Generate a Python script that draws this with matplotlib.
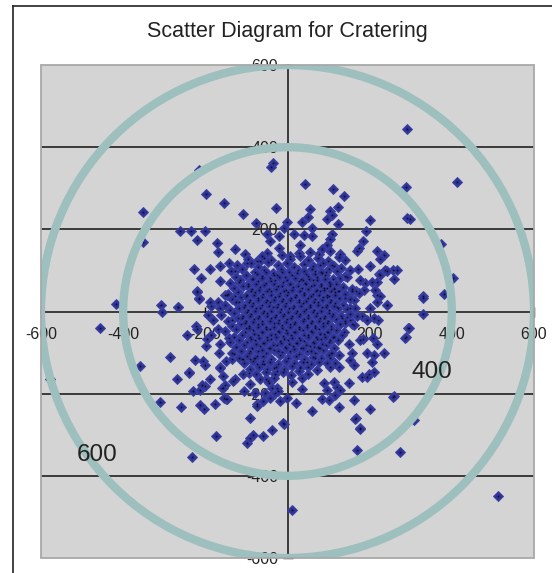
import matplotlib
matplotlib.use("Agg")
import matplotlib.pyplot as plt
from matplotlib.patches import Circle, Rectangle
from matplotlib.lines import Line2D

# ---------------- data ----------------
title = "Scatter Diagram for Cratering"
tick_values = [-600, -400, -200, 0, 200, 400, 600]
grid_values = [-400, -200, 200, 400]
ring_radii = [400, 600]
ring_labels = ["400", "600"]

# isolated impacts far from the aim point
outer_pts = [
    (292, 445), (413, 315), (288, 303), (292, 228), (298, 225), (373, 165), (403, 82),
    (330, 37), (381, 42), (329, -7), (294, -40), (288, -63), (259, -205), (308, -265),
    (275, -343), (168, -337), (166, -259), (176, -284), (513, -448), (10, -482), (-9, -273),
    (-417, 19), (-309, 17), (-306, -2), (-267, 11), (-456, -40), (-578, -165), (-245, -57),
    (-286, -110), (-270, -165), (-240, -147), (-259, -232), (-310, -221), (-359, -132),
    (-174, -302), (-233, -355), (-91, -259), (-99, -320), (-91, -308), (-83, -300),
    (-59, -302), (-38, -288), (-10, -272), (-35, 361), (-39, 352), (-215, 344), (-198, 287),
    (-154, 265), (-108, 237), (-27, 253), (-77, 216), (-261, 195), (-236, 197), (-200, 195),
    (-220, 175), (-351, 241), (-351, 170), (43, 310), (111, 298), (138, 282), (201, 222),
    (191, 195), (329, 32), (243, 15), (217, 39), (295, -41), (287, -65), (258, -208),
    (201, -237), (165, -261), (177, -286), (60, -243), (21, -222), (125, -233),
]

# scattered impacts around the dense core
mid_pts = [
    (-172, 167), (-169, 145), (-129, 151), (-103, 141), (-228, 104), (-188, 104), (-210, 81),
    (-164, 74), (-220, 51), (-216, 33), (-266, 12), (-222, -36), (-220, -43), (-215, 30),
    (-220, 48), (54, 249), (103, 245), (123, 255), (108, 234), (96, 225), (35, 219),
    (50, 229), (123, 212), (-1, 217), (60, 204), (15, 188), (39, 185), (60, 184), (108, 188),
    (104, 176), (96, 163), (173, 155), (169, 147), (31, 163), (27, 143), (7, 135), (55, 145),
    (76, 139), (84, 151), (103, 147), (128, 140), (141, 126), (125, 132), (218, 147),
    (236, 137), (224, 129), (112, 110), (153, 100), (171, 104), (201, 110), (238, 100),
    (258, 102), (266, 102), (222, 91), (184, 171), (80, 114), (68, 98), (84, 94), (100, 103),
    (128, 82), (141, 87), (189, 69), (218, 73), (167, 49), (187, 53), (173, 45), (157, 49),
    (214, 53), (226, 37), (218, 24), (242, 16), (161, 29), (141, 33), (153, 8), (125, 49),
    (112, 57), (96, 57), (100, 37), (120, 12), (205, 72), (176, 76), (144, 84), (156, 55),
    (103, 63), (124, 51), (260, 80), (225, 90), (241, 99), (200, 9), (221, -21), (208, -64),
    (183, -68), (157, -30), (144, -13), (211, -16), (181, -12), (193, -20), (153, -20),
    (161, -33), (141, -29), (133, -16), (169, -10), (112, -61), (104, -69), (149, -78),
    (177, -69), (218, -78), (80, -90), (64, -86), (108, -102), (125, -106), (157, -102),
    (153, -118), (161, -131), (193, -102), (210, -106), (206, -122), (234, -102), (104, -114),
    (104, -135), (125, -135), (116, -126), (47, -122), (31, -135), (68, -114), (181, -159),
    (198, -151), (211, -147), (193, -159), (88, -175), (112, -171), (120, -184), (149, -175),
    (128, -192), (96, -192), (84, -212), (100, -216), (116, -204), (161, -216), (35, -163),
    (35, -188), (11, -171), (-198, -84), (-164, -80), (-167, -100), (-196, -67), (-226, -118),
    (-206, -120), (-200, -130), (-164, -135), (-149, -120), (-131, -104), (-111, -116),
    (-82, -112), (-74, -128), (-58, -128), (-91, -96), (-239, -149), (-230, -194),
    (-212, -190), (-200, -182), (-159, -186), (-151, -178), (-129, -165), (-150, -214),
    (-176, -226), (-204, -238), (-212, -228), (-94, -149), (-107, -194), (-74, -226),
    (-46, -173), (-38, -186), (-30, -198), (-54, -198), (-78, -198), (-52, -165), (-34, -161),
    (-18, -218), (-26, -145), (-34, -137), (-209, -180), (-148, -214), (-154, -210),
    (-156, -186), (-132, -168), (-156, -157), (-189, -165), (-164, -137), (-136, -116),
    (-108, -116), (-91, -116), (-75, -108), (-59, -120), (-108, -153), (-91, -176),
    (-67, -165), (-47, -169), (-26, -186), (-59, -218), (-75, -230), (-43, -210), (-22, -193),
    (-2, -210), (-186, 13), (-169, 22), (-194, -8), (-181, -21), (-186, -56), (-169, -43),
    (-152, 39), (-135, -21), (-142, -64), (-117, 22), (-100, -39), (-147, 41), (-127, 37),
    (-188, 24), (-164, 8), (-164, 110), (-143, 118), (-127, 98), (-99, 118), (-119, 73),
    (-74, 122), (-58, 130), (-50, 188), (-42, 171), (-21, 183), (-9, 204), (-21, 155),
    (-50, 143), (-66, 122),
]

# dense core near the aim point
core_pts = [
    (-95, 128), (-62, 134), (-40, 126), (-14, 138), (6, 129), (31, 136), (50, 125), (74, 131), (98, 122),
    (-122, 112), (-90, 118), (-71, 109), (-47, 121), (-24, 113), (-2, 119), (17, 108), (39, 116),
    (63, 111), (86, 119), (108, 113), (130, 106),
    (-137, 98), (-111, 104), (-80, 96), (-58, 101), (-36, 94), (-16, 103), (4, 97), (26, 100),
    (44, 92), (59, 104), (94, 96), (121, 99),
    (-126, 84), (-101, 89), (-86, 80), (-63, 87), (-43, 82), (-26, 90), (-6, 84), (12, 88),
    (34, 80), (51, 86), (71, 83), (91, 89), (111, 80),
    (-141, 70), (-116, 76), (-96, 68), (-73, 74), (-53, 69), (-31, 77), (-11, 71), (7, 66),
    (27, 74), (43, 70), (61, 77), (81, 68), (101, 73), (119, 66),
    (-131, 56), (-109, 62), (-86, 54), (-66, 60), (-46, 55), (-23, 61), (-4, 53), (14, 59),
    (36, 57), (56, 62), (73, 52), (89, 58), (113, 55), (136, 60),
    (-146, 43), (-121, 48), (-99, 41), (-79, 47), (-59, 42), (-39, 49), (-19, 44), (1, 47),
    (21, 41), (41, 46), (61, 43), (79, 49), (96, 40), (116, 47), (141, 42),
    (-136, 30), (-113, 35), (-91, 28), (-71, 34), (-51, 29), (-31, 36), (-11, 31), (9, 34),
    (29, 27), (49, 33), (67, 30), (86, 36), (106, 29), (126, 34), (151, 31),
    (-151, 17), (-126, 22), (-103, 16), (-83, 21), (-63, 15), (-43, 23), (-23, 18), (-3, 21),
    (17, 14), (37, 20), (55, 17), (75, 23), (95, 16), (115, 21), (135, 15),
    (-141, 4), (-119, 9), (-96, 3), (-76, 8), (-56, 2), (-36, 10), (-16, 5), (4, 8), (24, 1),
    (44, 7), (64, 4), (84, 10), (102, 3), (122, 8), (145, 5), (165, 9),
    (-161, -9), (-131, -4), (-109, -10), (-89, -5), (-69, -11), (-49, -3), (-29, -8), (-9, -5),
    (11, -12), (31, -6), (51, -9), (71, -3), (91, -10), (111, -5), (131, -11), (152, -6),
    (-146, -22), (-121, -17), (-101, -23), (-81, -18), (-61, -24), (-41, -16), (-21, -21),
    (-1, -18), (19, -25), (39, -19), (59, -22), (79, -16), (99, -23), (119, -18), (139, -24),
    (-136, -35), (-113, -30), (-93, -36), (-73, -31), (-53, -37), (-33, -29), (-13, -34),
    (7, -31), (27, -38), (47, -32), (67, -35), (87, -29), (107, -36), (127, -31),
    (-151, -48), (-126, -43), (-103, -49), (-83, -44), (-63, -50), (-43, -42), (-23, -47),
    (-3, -44), (17, -51), (37, -45), (57, -48), (77, -42), (97, -49), (117, -44), (138, -50),
    (-131, -61), (-111, -56), (-91, -62), (-71, -57), (-51, -63), (-31, -55), (-11, -60),
    (9, -57), (29, -64), (49, -58), (69, -61), (89, -55), (110, -62), (132, -57),
    (-141, -74), (-119, -69), (-99, -75), (-79, -70), (-59, -76), (-39, -68), (-19, -73),
    (1, -70), (21, -77), (41, -71), (61, -74), (81, -68), (100, -75), (122, -70),
    (-126, -87), (-106, -82), (-86, -88), (-66, -83), (-46, -89), (-26, -81), (-6, -86),
    (14, -83), (34, -90), (54, -84), (74, -87), (94, -81), (114, -88),
    (-136, -100), (-113, -95), (-93, -101), (-73, -96), (-53, -102), (-33, -94), (-13, -99),
    (7, -96), (27, -103), (47, -97), (67, -100), (87, -94), (107, -101),
    (-119, -113), (-99, -108), (-79, -114), (-59, -109), (-39, -115), (-19, -107), (1, -112),
    (21, -109), (41, -116), (61, -110), (81, -113), (100, -107),
    (-106, -126), (-83, -121), (-63, -127), (-43, -122), (-23, -128), (-3, -120), (17, -125),
    (37, -122), (57, -129), (77, -123), (95, -126),
    (-91, -139), (-69, -134), (-49, -140), (-29, -135), (-9, -141), (11, -133), (31, -138),
    (51, -135), (71, -142),
    (-76, -152), (-53, -147), (-31, -153), (-11, -148), (9, -154), (29, -146), (49, -151),
]

# second, offset layer in the most crowded part of the core
inner_pts = [
    (-75, 92), (-52, 95), (-33, 88), (-13, 96), (22, 93), (40, 98), (66, 91), (82, 95),
    (-83, 79), (-63, 81), (-41, 75), (-21, 83), (-1, 77), (18, 81), (37, 76), (52, 80), (72, 76), (91, 79),
    (-95, 63), (-76, 66), (-56, 64), (-34, 68), (-13, 62), (5, 66), (25, 63), (45, 67), (64, 65), (82, 63), (103, 66),
    (-90, 50), (-69, 53), (-49, 51), (-29, 55), (-9, 49), (11, 53), (31, 50), (50, 54), (69, 51), (88, 53), (106, 50),
    (-101, 37), (-81, 40), (-61, 36), (-41, 41), (-21, 38), (-1, 40), (19, 35), (39, 39), (58, 37), (77, 41), (96, 36), (116, 39),
    (-94, 24), (-73, 27), (-53, 23), (-33, 28), (-13, 25), (7, 27), (27, 22), (46, 26), (65, 24), (85, 28), (104, 23),
    (-106, 11), (-86, 13), (-66, 9), (-46, 14), (-26, 11), (-6, 13), (14, 9), (34, 13), (54, 10), (74, 15), (93, 11), (112, 14),
    (-99, -2), (-79, 1), (-59, -4), (-39, 2), (-19, -1), (1, 0), (21, -4), (41, 1), (61, -2), (81, 2), (101, -3),
    (-111, -15), (-91, -12), (-71, -17), (-51, -11), (-31, -14), (-11, -12), (9, -17), (29, -11), (49, -15), (69, -10), (89, -16), (109, -12),
    (-103, -28), (-83, -25), (-63, -30), (-43, -24), (-23, -27), (-3, -25), (17, -30), (37, -24), (57, -28), (77, -23), (97, -29),
    (-93, -41), (-73, -38), (-53, -43), (-33, -37), (-13, -40), (7, -38), (27, -43), (47, -37), (67, -41), (87, -36), (107, -42),
    (-81, -54), (-61, -51), (-41, -56), (-21, -50), (-1, -53), (19, -51), (39, -56), (59, -50), (79, -54), (99, -49),
    (-89, -67), (-69, -64), (-49, -69), (-29, -63), (-9, -66), (11, -64), (31, -69), (51, -63), (71, -67), (91, -62),
    (-76, -80), (-56, -77), (-36, -82), (-16, -76), (4, -79), (24, -77), (44, -82), (64, -76), (84, -80),
    (-63, -93), (-43, -90), (-23, -95), (-3, -89), (17, -92), (37, -90), (57, -95), (77, -89),
]

# ---------------- figure ----------------
W, H, DPI = 552, 573, 100
fig = plt.figure(figsize=(W / DPI, H / DPI), dpi=DPI, facecolor="white")
FONT = ["Liberation Sans", "DejaVu Sans"]

# plot area in pixels: x 41..534, y 65..558 (from top)
L, T, R, B = 41, 65, 534, 558
ax = fig.add_axes([L / W, 1 - B / H, (R - L) / W, (B - T) / H])
ax.set_xlim(-600, 600)
ax.set_ylim(-600, 600)
ax.set_facecolor("#d4d4d4")

for s in ("top", "right"):
    ax.spines[s].set_visible(False)
for s in ("left", "bottom"):
    ax.spines[s].set_position("zero")
    ax.spines[s].set_color("#111111")
    ax.spines[s].set_linewidth(1.1)
    ax.spines[s].set_zorder(2)

ax.set_xticks(tick_values)
ax.set_yticks(tick_values)
ax.tick_params(direction="inout", length=7, width=1.0, color="#111111",
               labelbottom=False, labelleft=False)

for g in grid_values:
    ax.axhline(g, color="#111111", lw=1.1, zorder=1.5)

# tick labels (drawn under the marks, like the original)
for v in tick_values:
    ax.text(v, -67, f"{v}", ha="center", va="baseline", fontsize=11.5,
            family=FONT, color="#222222", zorder=2.2)
    ax.text(-23, v - 15, f"{v}", ha="right", va="baseline", fontsize=11.5,
            family=FONT, color="#222222", zorder=2.2)

all_pts = outer_pts + mid_pts + core_pts + inner_pts
xs = [p[0] for p in all_pts]
ys = [p[1] for p in all_pts]
ax.plot(xs, ys, linestyle="none", marker="D", ms=5.0, mfc="#2e3396",
        mec="#3e43a3", mew=0.7, zorder=3, clip_on=False)
ax.plot(xs, ys, linestyle="none", marker="s", ms=1.2, mfc="#0a0a20",
        mec="none", zorder=3.1, clip_on=False)

for r in ring_radii:
    ax.add_patch(Circle((0, 0), r, fill=False, ec="#9dbfbe", lw=6.0, zorder=4))

ax.text(352, -162, ring_labels[0], ha="center", va="baseline", fontsize=17.5,
        family=FONT, color="#222222", zorder=5)
ax.text(-463, -365, ring_labels[1], ha="center", va="baseline", fontsize=17.5,
        family=FONT, color="#222222", zorder=5)

ax.add_patch(Rectangle((0, 0), 1, 1, transform=ax.transAxes, fill=False,
                       ec="#a8a8a8", lw=1.3, zorder=6, clip_on=False))

fig.text(287 / W, 1 - 32 / H, title, ha="center", va="center", fontsize=15.5,
         family=FONT, color="#222222")

# chart-area frame (left and top edges visible)
fig.add_artist(Line2D([12.5 / W, 12.5 / W], [0, 1 - 5.5 / H], color="#222222",
                      lw=1.2, transform=fig.transFigure))
fig.add_artist(Line2D([12.5 / W, 1], [1 - 5.5 / H, 1 - 5.5 / H], color="#222222",
                      lw=1.2, transform=fig.transFigure))

fig.savefig("out.png", dpi=DPI, facecolor="white")
